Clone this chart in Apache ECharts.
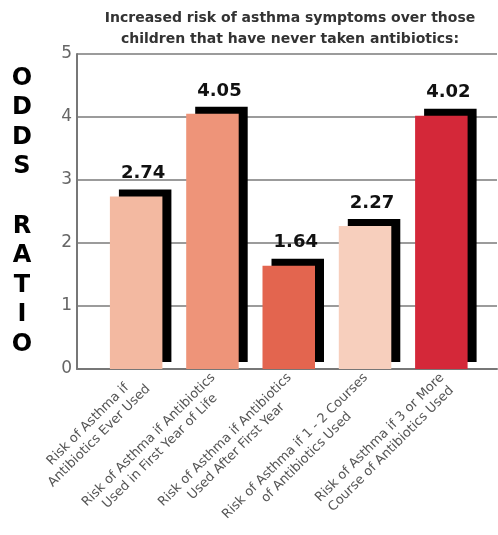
<!DOCTYPE html>
<html><head><meta charset="utf-8">
<script src="https://cdn.jsdelivr.net/npm/echarts@6/dist/echarts.min.js"></script>
<style>html,body{margin:0;padding:0;background:#fff}#c{width:498px;height:535px}</style>
</head><body><div id="c"></div>
<script>
const titleLines = ['Increased risk of asthma symptoms over those', 'children that have never taken antibiotics:'];
const categories = [
  'Risk of Asthma if\nAntibiotics Ever Used',
  'Risk of Asthma if Antibiotics\nUsed in First Year of Life',
  'Risk of Asthma if Antibiotics\nUsed After First Year',
  'Risk of Asthma if 1 - 2 Courses\nof Antibiotics Used',
  'Risk of Asthma if 3 or More\nCourse of Antibiotics Used'
];
const oddsRatios = [2.74, 4.05, 1.64, 2.27, 4.02];
const valueLabels = ['2.74', '4.05', '1.64', '2.27', '4.02'];
const barColors = ['#F3B9A1', '#EE9479', '#E3654F', '#F7CFBD', '#D42839'];
const yMin = 0, yMax = 5, yStep = 1;
const yAxisName = 'ODDS RATIO';

const chart = echarts.init(document.getElementById('c'), null, {renderer: 'canvas'});
const nameText = yAxisName.split('').map(c => c === ' ' ? '' : c).join('\n');
const GRID_TOP = 54, GRID_BOTTOM = 166;

chart.setOption({
  animation: false,
  backgroundColor: '#fff',
  title: {
    text: titleLines.join('\n'),
    left: 290,
    top: 7.5,
    textAlign: 'center',
    padding: 0,
    textStyle: {fontFamily: 'DejaVu Sans', fontWeight: 'bold', fontSize: 14, lineHeight: 21.5, color: '#333'}
  },
  grid: [
    {left: 77, right: 1, top: GRID_TOP, bottom: GRID_BOTTOM, containLabel: false, outerBoundsMode: 'none'},
    {left: 98, right: 18.5, top: GRID_TOP, bottom: GRID_BOTTOM, containLabel: false, outerBoundsMode: 'none'}
  ],
  xAxis: [
    {type: 'value', gridIndex: 0, min: 0, max: 1, axisLine: {show: true, onZero: false, lineStyle: {color: '#777', width: 2}},
     axisTick: {show: false}, axisLabel: {show: false}, splitLine: {show: false}},
    {type: 'category', gridIndex: 1, data: categories, axisLine: {show: false}, axisTick: {show: false},
     axisLabel: {
       interval: 0, rotate: 45, align: 'right', verticalAlign: 'top', margin: -4, padding: [0, 7, 0, 0],
       formatter: v => v.split('\n').map(s => '{c|' + s + '}').join('\n'),
       rich: {c: {align: 'center', fontFamily: 'DejaVu Sans', fontSize: 13, lineHeight: 16, color: '#555'}}
     }}
  ],
  yAxis: [
    {type: 'value', gridIndex: 0, min: yMin, max: yMax, interval: yStep,
     axisLine: {show: true, lineStyle: {color: '#777', width: 2}}, axisTick: {show: false},
     axisLabel: {fontFamily: 'DejaVu Sans', fontSize: 17, color: '#666', margin: 5},
     splitLine: {show: true, lineStyle: {color: '#7a7a7a', width: 1.5}},
     name: nameText, nameLocation: 'middle', nameRotate: 0, nameGap: 55,
     nameTextStyle: {fontFamily: 'DejaVu Sans', fontWeight: 'bold', fontSize: 24, lineHeight: 29.6, color: '#000',
       align: 'center', verticalAlign: 'middle', padding: [0, 0, 16, 0]}},
    {type: 'value', gridIndex: 1, min: yMin, max: yMax, interval: yStep, show: false}
  ],
  series: [{
    type: 'bar',
    xAxisIndex: 1, yAxisIndex: 1,
    barWidth: 52.5,
    data: oddsRatios.map((v, i) => ({value: v, itemStyle: {color: barColors[i]}})),
    itemStyle: {shadowColor: '#000', shadowBlur: 0, shadowOffsetX: 9, shadowOffsetY: -7},
    label: {show: true, position: 'top', distance: 14, offset: [7, 0],
      formatter: p => valueLabels[p.dataIndex],
      fontFamily: 'DejaVu Sans', fontWeight: 'bold', fontSize: 18, color: '#111'}
  }]
});
</script></body></html>
